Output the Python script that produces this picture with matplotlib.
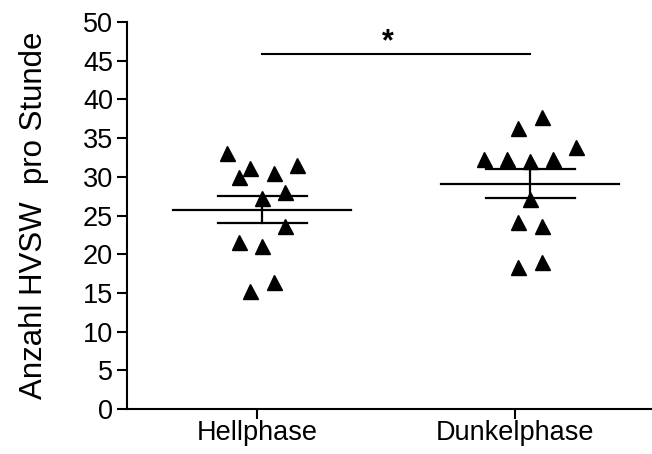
import numpy as np
import matplotlib.pyplot as plt

plt.rcParams['font.family'] = ['Liberation Sans', 'DejaVu Sans']

# counts per animal, light and dark phase
groups = ['Hellphase', 'Dunkelphase']
hell = [33.1, 31.1, 30.0, 30.5, 31.5, 27.3, 28.0, 23.6, 21.6, 21.0, 16.4, 15.2]
dunkel = [36.3, 37.7, 32.3, 32.3, 32.0, 32.3, 33.8, 27.1, 24.2, 23.7, 18.4, 19.0]
# horizontal scatter slot of each point (column scatter)
hell_slot = [-3, -1, -2, 1, 3, 0, 2, 2, -2, 0, 1, -1]
dunkel_slot = [-1, 1, -4, -2, 0, 2, 4, 0, -1, 1, -1, 1]
yticks = [0, 5, 10, 15, 20, 25, 30, 35, 40, 45, 50]

centers = [1.0, 2.0]
tick_pos = [0.981, 1.944]
step = 0.0433

fig = plt.figure(figsize=(6.52, 4.54), dpi=100)
ax = fig.add_axes([127 / 652, 45 / 454, 525 / 652, 387 / 454])

for c, vals, slots in [(centers[0], hell, hell_slot), (centers[1], dunkel, dunkel_slot)]:
    vals = np.array(vals)
    xs = c + step * np.array(slots)
    ax.plot(xs, vals, '^', color='black', ms=10.8, mec='black', zorder=3, clip_on=False)
    m = vals.mean()
    sem = vals.std(ddof=1) / np.sqrt(len(vals))
    ax.plot([c - 0.332, c + 0.332], [m, m], color='black', lw=1.6, zorder=2)
    ax.plot([c - 0.166, c + 0.166], [m + sem, m + sem], color='black', lw=1.6, zorder=2)
    ax.plot([c - 0.166, c + 0.166], [m - sem, m - sem], color='black', lw=1.6, zorder=2)
    ax.plot([c, c], [m - sem, m + sem], color='black', lw=1.6, zorder=2)

# significance bar
ax.plot([centers[0], centers[1]], [45.9, 45.9], color='black', lw=1.5)
ax.text(1.47, 46.4, '*', ha='center', va='baseline', fontsize=22, fontweight='bold')

ax.set_xlim(0.496, 2.455)
ax.set_ylim(0, 50)
ax.set_xticks(tick_pos)
ax.set_xticklabels(groups)
ax.set_yticks(yticks)
ax.tick_params(axis='both', labelsize=19.5, width=1.5, length=7, color='black')
ax.tick_params(axis='x', pad=1)
ax.tick_params(axis='y', pad=3)
for s in ['top', 'right']:
    ax.spines[s].set_visible(False)
for s in ['left', 'bottom']:
    ax.spines[s].set_linewidth(1.5)

ax.set_ylabel('Anzahl HVSW  pro Stunde', fontsize=22.5)
ax.yaxis.set_label_coords(-0.148, 0.5)

fig.savefig('out.png', dpi=100)
